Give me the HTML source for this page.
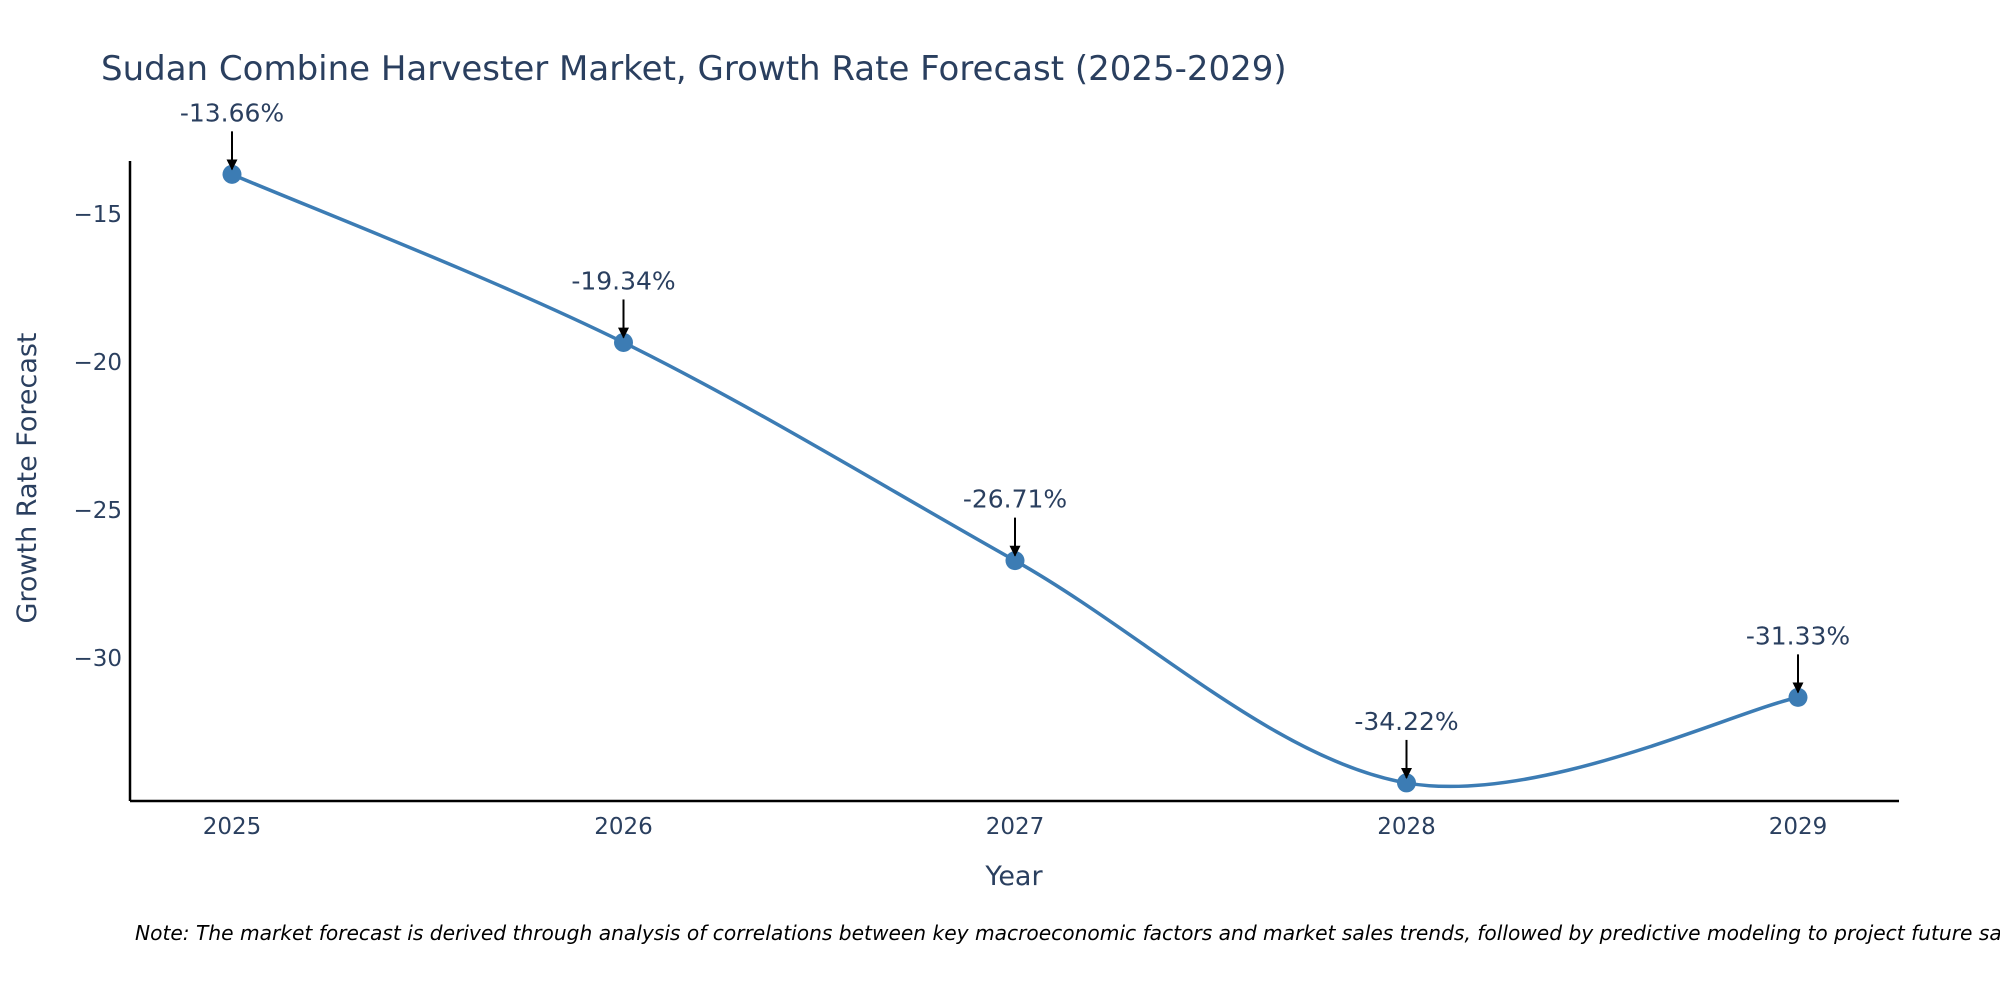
<!DOCTYPE html>
<html><head><meta charset="utf-8"><style>
body{margin:0;background:#fff;}
svg text{font-family:"DejaVu Sans","Liberation Sans",sans-serif;fill:#2a3f5f;}
</style></head><body>
<svg id="chart" width="2000" height="1000" viewBox="0 0 2000 1000">
<defs><marker id="ah" viewBox="0 0 10 10" refX="9" refY="5" markerWidth="11" markerHeight="11" markerUnits="userSpaceOnUse" orient="auto"><path d="M0,0L10,5L0,10z" fill="#000"/></marker></defs>
<text x="101" y="80" font-size="34">Sudan Combine Harvester Market, Growth Rate Forecast (2025-2029)</text>
<g id="plot"></g>
<line x1="130" y1="161" x2="130" y2="801" stroke="#000" stroke-width="2.5"/>
<line x1="130" y1="801" x2="1899" y2="801" stroke="#000" stroke-width="2.5"/>
<text x="1014" y="885" font-size="27" text-anchor="middle">Year</text>
<text transform="translate(36,478) rotate(-90)" font-size="27" text-anchor="middle">Growth Rate Forecast</text>
<text x="135" y="940" font-size="20.2" font-style="italic" style="fill:#000">Note: The market forecast is derived through analysis of correlations between key macroeconomic factors and market sales trends, followed by predictive modeling to project future sales.</text>
</svg>
<script>
const years=["2025","2026","2027","2028","2029"];
const values=[-13.66,-19.34,-26.71,-34.22,-31.33];
const labels=["-13.66%","-19.34%","-26.71%","-34.22%","-31.33%"];
const yTicks=[-15,-20,-25,-30];
const NS="http://www.w3.org/2000/svg";
const g=document.getElementById('plot');
function xs(i){return 232+i*391.5;}
function ys(v){return 214+(-15-v)*29.6;}
function mk(t,a){const e=document.createElementNS(NS,t);for(const k in a)e.setAttribute(k,a[k]);g.appendChild(e);return e;}
yTicks.forEach(t=>{const e=mk('text',{x:122,y:ys(t)+8,'font-size':23,'text-anchor':'end'});e.textContent=(t<0?'\u2212':'')+Math.abs(t);

});
years.forEach((y,i)=>{const e=mk('text',{x:xs(i),y:834,'font-size':23,'text-anchor':'middle'});e.textContent=y;

});
const P=values.map((v,i)=>[xs(i),ys(v)]);
let d='M'+P[0][0]+','+P[0][1];
const k=1/6;
for(let i=0;i<P.length-1;i++){const p0=P[i-1]||P[i],p1=P[i],p2=P[i+1],p3=P[i+2]||P[i+1];
const c1=[p1[0]+(p2[0]-p0[0])*k,p1[1]+(p2[1]-p0[1])*k];
const c2=[p2[0]-(p3[0]-p1[0])*k,p2[1]-(p3[1]-p1[1])*k];
d+=` C${c1[0]},${c1[1]} ${c2[0]},${c2[1]} ${p2[0]},${p2[1]}`;}
const ln=mk('path',{d:d,fill:'none',stroke:'#3c7cb4','stroke-width':3.5});


P.forEach((p,i)=>{const c=mk('circle',{cx:p[0],cy:p[1],r:9.5,fill:'#3c7cb4'});


const a=mk('line',{x1:p[0],y1:p[1]-43,x2:p[0],y2:p[1]-5,stroke:'#000','stroke-width':2,'marker-end':'url(#ah)'});


const tx=mk('text',{x:p[0],y:p[1]-53,'font-size':25,'text-anchor':'middle'});tx.textContent=labels[i];

});
</script>
</body></html>
